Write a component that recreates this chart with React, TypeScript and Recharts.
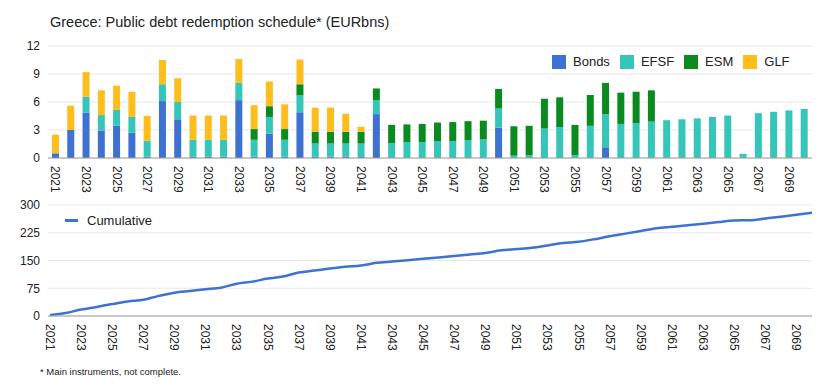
import { BarChart, Bar, LineChart, Line, XAxis, YAxis, CartesianGrid } from "recharts";

const years = [
  "2021", "2022", "2023", "2024", "2025", "2026", "2027", "2028", "2029", "2030",
  "2031", "2032", "2033", "2034", "2035", "2036", "2037", "2038", "2039", "2040",
  "2041", "2042", "2043", "2044", "2045", "2046", "2047", "2048", "2049", "2050",
  "2051", "2052", "2053", "2054", "2055", "2056", "2057", "2058", "2059", "2060",
  "2061", "2062", "2063", "2064", "2065", "2066", "2067", "2068", "2069", "2070",
];

// EUR bn per year
const bonds = [
  0.5, 3.0, 4.85, 2.95, 3.45, 2.7, 0.15, 6.1, 4.15, 0.15,
  0.15, 0.15, 6.2, 0.15, 2.6, 0.15, 4.9, 0.15, 0.15, 0.15,
  0.1, 4.7, 0, 0, 0, 0, 0, 0, 0, 3.25,
  0, 0, 0, 0, 0, 0, 1.15, 0, 0, 0,
  0, 0, 0, 0, 0, 0, 0, 0, 0, 0,
];
const efsf = [
  0, 0, 1.7, 1.65, 1.7, 1.7, 1.7, 1.8, 1.85, 1.8,
  1.8, 1.8, 1.85, 1.8, 1.8, 1.8, 1.8, 1.4, 1.4, 1.4,
  1.45, 1.5, 1.6, 1.7, 1.7, 1.8, 1.8, 1.9, 2.0, 2.05,
  0.25, 0.3, 3.15, 3.3, 0.3, 3.45, 3.55, 3.65, 3.75, 3.9,
  4.05, 4.15, 4.25, 4.4, 4.55, 0.45, 4.8, 4.95, 5.1, 5.25,
];
const esm = [
  0, 0, 0, 0, 0, 0, 0, 0, 0, 0,
  0, 0, 0, 1.15, 1.15, 1.15, 1.2, 1.25, 1.25, 1.25,
  1.25, 1.25, 1.95, 1.9, 1.95, 2.0, 2.05, 2.05, 2.0, 2.1,
  3.15, 3.15, 3.2, 3.2, 3.25, 3.3, 3.35, 3.35, 3.35, 3.35,
  0, 0, 0, 0, 0, 0, 0, 0, 0, 0,
];
const glf = [
  2.0, 2.6, 2.65, 2.65, 2.6, 2.7, 2.65, 2.6, 2.55, 2.6,
  2.6, 2.6, 2.55, 2.55, 2.65, 2.65, 2.65, 2.6, 2.6, 1.95,
  0.55, 0, 0, 0, 0, 0, 0, 0, 0, 0,
  0, 0, 0, 0, 0, 0, 0, 0, 0, 0,
  0, 0, 0, 0, 0, 0, 0, 0, 0, 0,
];
const cumulative = [
  2.5, 8.1, 17.3, 24.6, 32.3, 39.4, 43.9, 54.4, 63.0, 67.5,
  72.1, 76.6, 87.2, 92.9, 101.1, 106.8, 117.4, 122.8, 128.2, 132.9,
  136.3, 143.7, 147.3, 150.9, 154.5, 158.3, 162.2, 166.1, 170.1, 177.5,
  180.9, 184.4, 190.7, 197.2, 200.8, 207.5, 215.6, 222.6, 229.7, 236.9,
  241.0, 245.1, 249.4, 253.8, 258.3, 258.8, 263.6, 268.5, 273.6, 278.9,
];
const barTicks = [0, 3, 6, 9, 12];
const lineTicks = [0, 75, 150, 225, 300];

const colors = { Bonds: "#3d72d0", EFSF: "#35c6b9", ESM: "#0b8a1f", GLF: "#fdbd1d" };
const font = '"Liberation Sans", Arial, Helvetica, sans-serif';
const tickStyle = { fontSize: 12, fill: "#222", fontFamily: font };

const barData = years.map((year, i) => ({
  year,
  Bonds: bonds[i],
  EFSF: efsf[i],
  ESM: esm[i],
  GLF: glf[i],
}));
const lineData = years.map((year, i) => ({ year, Cumulative: cumulative[i] }));

function YearTick({ x, y, payload }: any) {
  return (
    <g transform={`translate(${x},${y})`}>
      <text transform="rotate(90)" x={0} y={0} dy="0.35em" textAnchor="start" {...tickStyle}>
        {payload.value}
      </text>
    </g>
  );
}

function BarLegend() {
  return (
    <div style={{ display: "flex", alignItems: "center", fontSize: 13, color: "#222" }}>
      {(Object.keys(colors) as (keyof typeof colors)[]).map((k) => (
        <div key={k} style={{ display: "flex", alignItems: "center", marginRight: 10 }}>
          <span style={{ width: 14, height: 14, background: colors[k], marginRight: 7, display: "inline-block" }} />
          {k}
        </div>
      ))}
    </div>
  );
}

export default function App() {
  return (
    <div style={{ position: "absolute", left: 0, top: 0, width: 839, height: 390, background: "#fff", fontFamily: font }}>
      <div style={{ position: "absolute", left: 50, top: 14, fontSize: 14.5, color: "#222" }}>
        Greece: Public debt redemption schedule* (EURbns)
      </div>

      <div style={{ position: "absolute", left: 0, top: 0 }}>
        <BarChart width={839} height={200} data={barData} margin={{ top: 46, right: 27, left: 0, bottom: 0 }} barCategoryGap="26%">
          <CartesianGrid vertical={false} stroke="#e8e8e8" />
          <XAxis dataKey="year" interval={1} tick={<YearTick />} tickLine={false} axisLine={{ stroke: "#9e9e9e" }} height={42} />
          <YAxis domain={[0, 12]} ticks={barTicks} tick={tickStyle} axisLine={false} tickLine={false} width={48} />
          <Bar dataKey="Bonds" stackId="a" fill={colors.Bonds} isAnimationActive={false} />
          <Bar dataKey="EFSF" stackId="a" fill={colors.EFSF} isAnimationActive={false} />
          <Bar dataKey="ESM" stackId="a" fill={colors.ESM} isAnimationActive={false} />
          <Bar dataKey="GLF" stackId="a" fill={colors.GLF} isAnimationActive={false} />
        </BarChart>
      </div>
      <div style={{ position: "absolute", left: 552, top: 54 }}>
        <BarLegend />
      </div>

      <div style={{ position: "absolute", left: 0, top: 190 }}>
        <LineChart width={839} height={168} data={lineData} margin={{ top: 15, right: 27, left: 0, bottom: 0 }}>
          <CartesianGrid vertical={false} stroke="#e8e8e8" />
          <XAxis dataKey="year" interval={1} tick={<YearTick />} tickLine={false} axisLine={{ stroke: "#9e9e9e" }} height={42} padding={{ left: 2, right: 0 }} />
          <YAxis domain={[0, 300]} ticks={lineTicks} tick={tickStyle} axisLine={false} tickLine={false} width={48} />
          <Line type="monotone" dataKey="Cumulative" stroke={colors.Bonds} strokeWidth={2.5} dot={false} isAnimationActive={false} />
        </LineChart>
      </div>
      <div style={{ position: "absolute", left: 65, top: 213, display: "flex", alignItems: "center", fontSize: 13, color: "#222" }}>
        <span style={{ width: 13, height: 3, background: colors.Bonds, marginRight: 9, display: "inline-block" }} />
        Cumulative
      </div>

      <div style={{ position: "absolute", left: 40, top: 366, fontSize: 9.5, color: "#222" }}>
        * Main instruments, not complete.
      </div>
    </div>
  );
}
